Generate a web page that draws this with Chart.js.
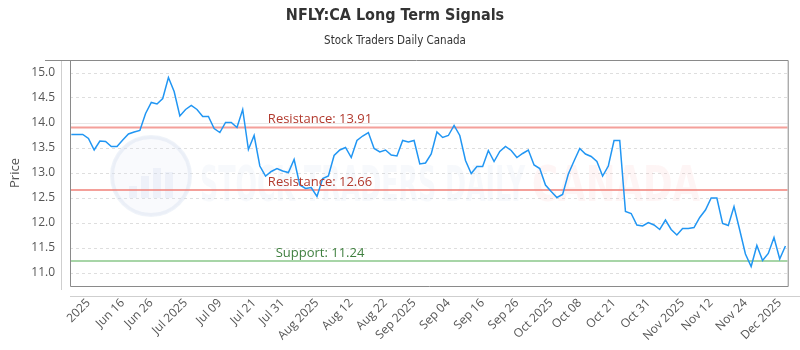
<!DOCTYPE html>
<html>
<head>
<meta charset="utf-8">
<script src="https://cdn.jsdelivr.net/npm/chart.js@4"></script>
<style>
  html, body { margin: 0; padding: 0; background: #fff; }
  #wrap { width: 800px; height: 350px; }
</style>
</head>
<body>
<div id="wrap"><canvas id="myChart" width="800" height="350"></canvas></div>
<script>
// closing prices, one per session
const prices = [
  13.77, 13.77, 13.77, 13.69, 13.46, 13.64, 13.63, 13.53, 13.53, 13.66,
  13.78, 13.82, 13.85, 14.19, 14.41, 14.38, 14.49, 14.91, 14.63, 14.14,
  14.27, 14.35, 14.27, 14.13, 14.13, 13.89, 13.81, 14.01, 14.01, 13.91,
  14.27, 13.47, 13.75, 13.14, 12.94, 13.03, 13.09, 13.04, 13.01, 13.27,
  12.76, 12.69, 12.71, 12.53, 12.89, 12.94, 13.35, 13.46, 13.51, 13.31,
  13.65, 13.74, 13.81, 13.49, 13.42, 13.46, 13.36, 13.34, 13.65, 13.62,
  13.65, 13.18, 13.20, 13.38, 13.82, 13.71, 13.75, 13.95, 13.75, 13.25,
  12.99, 13.13, 13.13, 13.45, 13.23, 13.43, 13.53, 13.45, 13.31, 13.39,
  13.46, 13.16, 13.09, 12.76, 12.63, 12.51, 12.57, 12.98, 13.24, 13.49,
  13.38, 13.33, 13.23, 12.94, 13.14, 13.65, 13.65, 12.23, 12.19, 11.96,
  11.94, 12.01, 11.96, 11.87, 12.06, 11.87, 11.76, 11.89, 11.89, 11.91,
  12.11, 12.26, 12.50, 12.50, 11.99, 11.95, 12.33, 11.86, 11.38, 11.13,
  11.55, 11.25, 11.39, 11.71, 11.28, 11.54
];

// x axis labels and the session they sit on
const tickLabels = ['2025', 'Jun 16', 'Jun 26', 'Jul 2025', 'Jul 09', 'Jul 21', 'Jul 31',
  'Aug 2025', 'Aug 12', 'Aug 22', 'Sep 2025', 'Sep 04', 'Sep 16', 'Sep 26', 'Oct 2025',
  'Oct 08', 'Oct 21', 'Oct 31', 'Nov 2025', 'Nov 12', 'Nov 24', 'Dec 2025'];
const tickIndex = [3, 9, 14, 20, 26, 32, 37, 43, 49, 55, 60, 66, 72, 78, 84, 89, 95, 101, 107, 112, 118, 124];

const yTicks = [11.0, 11.5, 12.0, 12.5, 13.0, 13.5, 14.0, 14.5, 15.0];

const resistance = [13.91, 12.66];
const support = [11.24];

const xMin = -0.23, xMax = 125.4;
const yMin = 10.74, yMax = 15.26;

const labelFont = "'Open Sans', 'DejaVu Sans', sans-serif";

function levelLine(v, color) {
  return {
    data: [{ x: xMin, y: v }, { x: xMax, y: v }],
    borderColor: color,
    borderWidth: 2,
    pointRadius: 0,
    tension: 0
  };
}

const decor = {
  id: 'decor',
  beforeDatasetsDraw(chart) {
    const { ctx, chartArea: a, scales: { y } } = chart;
    ctx.save();
    // solid faint line at 14.0
    ctx.strokeStyle = '#e8e8e8';
    ctx.lineWidth = 1;
    const y14 = Math.round(y.getPixelForValue(14)) + 0.5;
    ctx.beginPath(); ctx.moveTo(a.left, y14); ctx.lineTo(a.right, y14); ctx.stroke();

    // watermark
    const cx = 151, cy = 176;
    ctx.fillStyle = 'rgba(220,228,242,0.18)';
    ctx.beginPath(); ctx.arc(cx, cy, 40, 0, Math.PI * 2); ctx.fill();
    ctx.strokeStyle = 'rgba(210,220,238,0.35)';
    ctx.lineWidth = 4;
    ctx.beginPath(); ctx.arc(cx, cy, 39, 0, Math.PI * 2); ctx.stroke();
    ctx.fillStyle = 'rgba(205,216,236,0.25)';
    [[-22, 12], [-10, 22], [2, 30], [14, 26]].forEach(([dx, h]) => {
      ctx.fillRect(cx + dx, cy + 22 - h, 8, h);
    });

    ctx.font = "bold 50px 'DejaVu Sans Condensed', 'DejaVu Sans', sans-serif";
    ctx.textBaseline = 'alphabetic';
    const drawSqueezed = (txt, x0, x1, color) => {
      const w = ctx.measureText(txt).width;
      ctx.save();
      ctx.translate(x0, 201);
      ctx.scale((x1 - x0) / w, 1);
      ctx.fillStyle = color;
      ctx.fillText(txt, 0, 0);
      ctx.restore();
    };
    drawSqueezed('STOCK TRADERS DAILY', 200, 525, 'rgba(200,212,232,0.14)');
    drawSqueezed('CANADA', 532, 700, 'rgba(245,140,140,0.09)');
    ctx.restore();
  },
  afterDatasetsDraw(chart) {
    const { ctx, scales: { y } } = chart;
    ctx.save();
    ctx.font = '13px ' + labelFont;
    ctx.textAlign = 'center';
    ctx.textBaseline = 'middle';
    resistance.forEach(v => {
      ctx.fillStyle = '#b23a2e';
      ctx.fillText('Resistance: ' + v.toFixed(2), 320, y.getPixelForValue(v) - 8);
    });
    support.forEach(v => {
      ctx.fillStyle = '#3f7f3f';
      ctx.fillText('Support: ' + v.toFixed(2), 320, y.getPixelForValue(v) - 8);
    });
    ctx.restore();
  },
  afterDraw(chart) {
    const { ctx, chartArea: a } = chart;
    ctx.save();
    ctx.lineWidth = 1;
    // outer light lines
    ctx.strokeStyle = '#cfcfcf';
    ctx.beginPath();
    ctx.moveTo(61.5, a.top); ctx.lineTo(61.5, a.bottom + 4);
    ctx.moveTo(a.left, a.bottom + 10.5); ctx.lineTo(800, a.bottom + 10.5);
    ctx.stroke();
    // plot frame
    ctx.strokeStyle = '#8a8a8a';
    ctx.beginPath();
    ctx.moveTo(45, a.top + 0.5); ctx.lineTo(a.right + 0.5, a.top + 0.5);
    ctx.lineTo(a.right + 0.5, a.bottom + 0.5);
    ctx.lineTo(a.left + 0.5, a.bottom + 0.5);
    ctx.lineTo(a.left + 0.5, a.top);
    ctx.stroke();
    ctx.restore();
  }
};

const ctx = document.getElementById('myChart').getContext('2d');

new Chart(ctx, {
  type: 'line',
  data: {
    datasets: [
      {
        label: 'Price',
        data: prices.map((v, i) => ({ x: i, y: v })),
        borderColor: 'rgb(33,150,243)',
        borderWidth: 1.5,
        pointRadius: 0,
        tension: 0
      },
      levelLine(resistance[0], 'rgba(240,128,120,0.75)'),
      levelLine(resistance[1], 'rgba(240,128,120,0.75)'),
      levelLine(support[0], 'rgba(120,190,120,0.65)')
    ]
  },
  options: {
    responsive: false,
    animation: false,
    layout: { padding: { left: 0, right: 10, top: 0, bottom: 0 } },
    plugins: {
      legend: { display: false },
      tooltip: { enabled: false },
      title: {
        display: true,
        text: 'NFLY:CA Long Term Signals',
        color: '#333',
        font: { family: "'DejaVu Sans Condensed', 'DejaVu Sans', sans-serif", size: 16, weight: 'bold' },
        padding: { top: 6, bottom: 4 }
      },
      subtitle: {
        display: true,
        text: 'Stock Traders Daily Canada',
        color: '#333',
        font: { family: "'DejaVu Sans Condensed', 'DejaVu Sans', sans-serif", size: 11.5 },
        padding: { top: 5, bottom: 12 }
      }
    },
    scales: {
      x: {
        type: 'linear',
        min: xMin,
        max: xMax,
        grid: { display: false, drawTicks: false },
        border: { display: false },
        afterBuildTicks: s => { s.ticks = tickIndex.map(v => ({ value: v })); },
        afterFit: s => { s.height = 64; },
        ticks: {
          autoSkip: false,
          minRotation: 45,
          maxRotation: 45,
          padding: 10,
          color: '#555',
          font: { family: labelFont, size: 12 },
          callback: v => tickLabels[tickIndex.indexOf(v)]
        }
      },
      y: {
        min: yMin,
        max: yMax,
        afterBuildTicks: s => { s.ticks = yTicks.map(v => ({ value: v })); },
        afterFit: s => { s.width = 70; },
        grid: { color: '#dedede', drawTicks: false },
        border: { display: false, dash: [3, 3] },
        ticks: {
          padding: 15,
          color: '#555',
          font: { family: labelFont, size: 12 },
          callback: v => Number(v).toFixed(1)
        },
        title: {
          display: true,
          text: 'Price',
          color: '#555',
          font: { family: labelFont, size: 13 },
          padding: { top: 7, bottom: 0 }
        }
      }
    }
  },
  plugins: [decor]
});
</script>
</body>
</html>
